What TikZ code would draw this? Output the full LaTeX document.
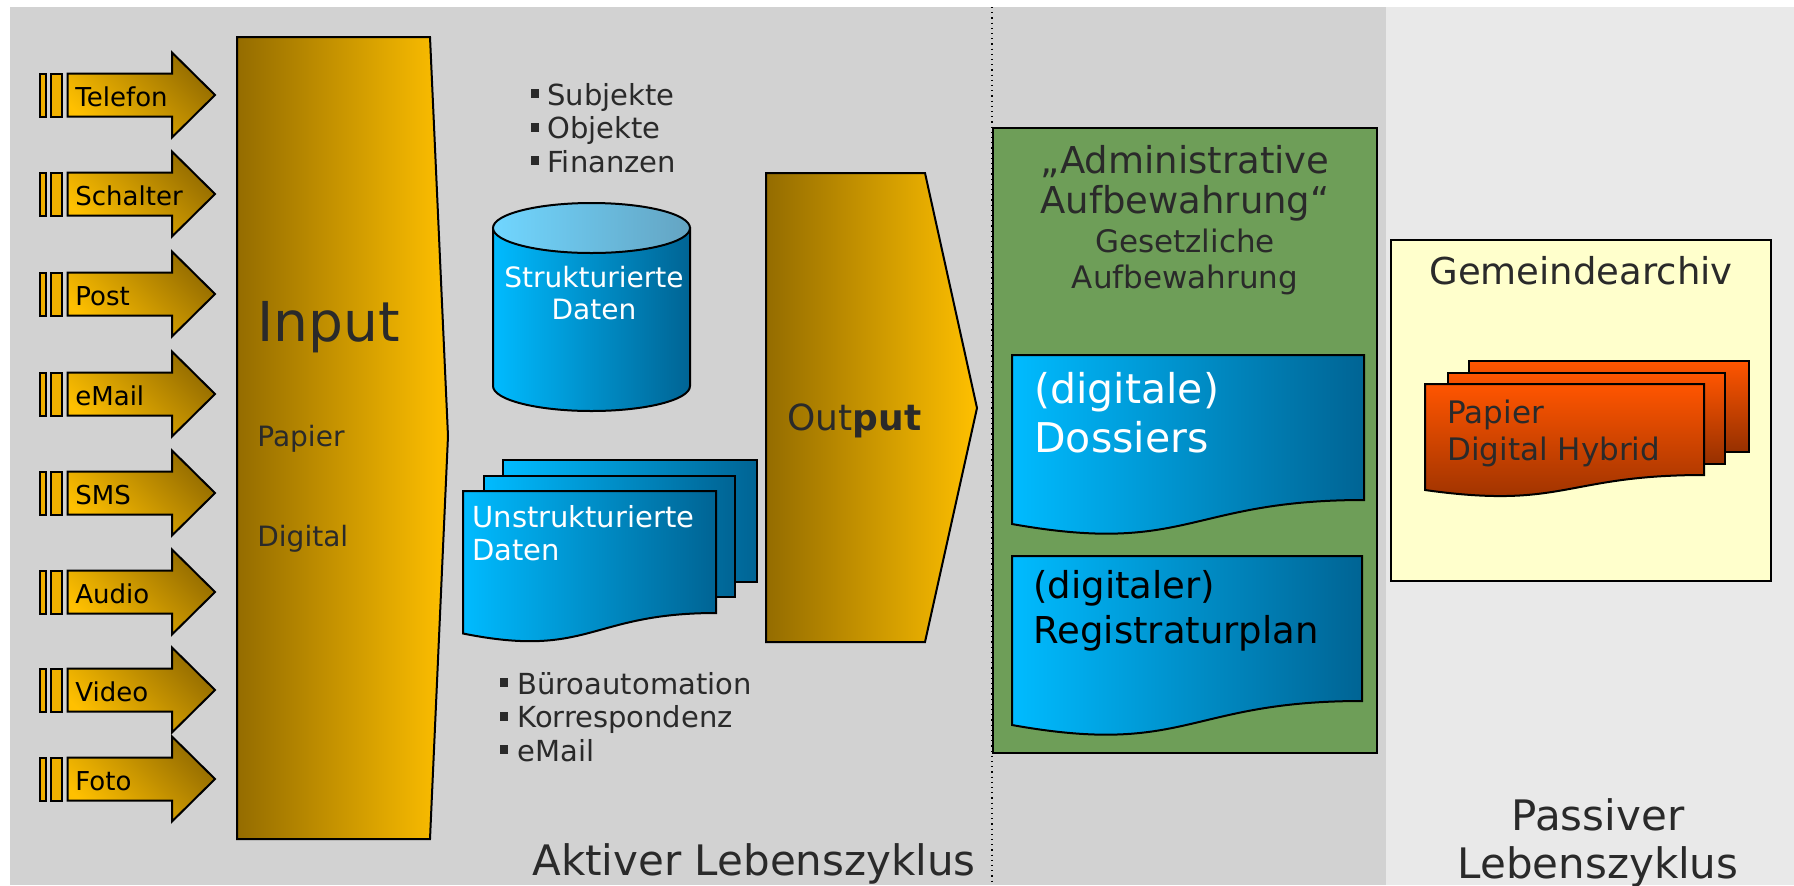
\documentclass[tikz,border=0pt]{standalone}
\usepackage{fontspec}
\setmainfont{DejaVu Sans}
\newcommand{\fsz}[1]{\fontsize{#1pt}{#1pt}\selectfont}
\definecolor{golddark}{RGB}{148,108,0}
\definecolor{goldlight}{RGB}{255,192,0}
\definecolor{bargold}{RGB}{240,176,0}
\definecolor{blueL}{RGB}{0,187,255}
\definecolor{blueD}{RGB}{0,100,148}
\definecolor{cylTopL}{RGB}{112,214,255}
\definecolor{cylTopR}{RGB}{100,164,194}
\definecolor{orangeT}{RGB}{255,85,0}
\definecolor{orangeB}{RGB}{150,48,0}
\definecolor{greenbox}{RGB}{110,158,88}
\definecolor{yellowbox}{RGB}{255,255,204}
\definecolor{bgA}{RGB}{210,210,210}
\definecolor{bgB}{RGB}{233,233,233}
\definecolor{txt}{RGB}{42,42,42}
\tikzset{
  outl/.style={draw=black, line width=1pt},
  goldh/.style={outl, left color=golddark, right color=goldlight},
  golddiag/.style={outl, top color=golddark, bottom color=goldlight, shading angle=-45},
  blueh/.style={outl, left color=blueL, right color=blueD},
  orangev/.style={outl, top color=orangeT, bottom color=orangeB},
  lbl/.style={inner sep=0pt, text=txt},
  bul/.style={fill=txt},
}
\begin{document}
\begin{tikzpicture}[x=0.5pt,y=-0.5pt]
\useasboundingbox (0,0) rectangle (1794,885);
\fill[white] (0,0) rectangle (1794,885);
% background zones
\fill[bgA] (10,7) rectangle (1386,885);
\fill[bgB] (1386,7) rectangle (1794,885);

% input arrows
\foreach \c/\t/\n in {95/Telefon/tel,194/Schalter/sch,294/Post/post,394/eMail/mail,493/SMS/sms,592/Audio/aud,690/Video/vid,779/Foto/foto}{
  \path[outl, fill=bargold] (39.5,\c-21.5) rectangle (45.5,\c+21.5);
  \path[outl, fill=bargold] (50.5,\c-21.5) rectangle (62,\c+21.5);
  \path[golddiag] (67.5,\c-21.5) -- (172,\c-21.5) -- (172,\c-42.5) -- (215,\c) -- (172,\c+42.5) -- (172,\c+21.5) -- (67.5,\c+21.5) -- cycle;
  \node[inner sep=0pt, anchor=base west, font=\fsz{13}] (\n) at (75,\c+11) {\t};
}

% Input block
\path[goldh] (237,37) -- (430,37) -- (448,436) -- (430,839) -- (237,839) -- cycle;
\node[lbl, anchor=base west, font=\fsz{27.5}] (input) at (257,341) {Input};
\node[lbl, anchor=base west, font=\fsz{14}] (inpap) at (257,446) {Papier};
\node[lbl, anchor=base west, font=\fsz{14}] (indig) at (257,546) {Digital};

% bullets top
\foreach \b/\t/\n in {105/Subjekte/subj,138.5/Objekte/obj,172/Finanzen/fin}{
  \fill[bul] (531,\b-16) rectangle (539,\b-7);
  \node[lbl, anchor=base west, font=\fsz{14.5}] (\n) at (547,\b) {\t};
}

% cylinder
\path[outl, left color=blueL, right color=blueD]
  (493,228) -- (493,386)
  .. controls (493,399.8) and (537.1,411) .. (591.5,411)
  .. controls (645.9,411) and (690,399.8) .. (690,386)
  -- (690,228) -- cycle;
\path[outl, left color=cylTopL, right color=cylTopR] (591.5,228) ellipse [x radius=98.5, y radius=25];
\node[inner sep=0pt, anchor=base, text=white, font=\fsz{14}] (strk1) at (594,287) {Strukturierte};
\node[inner sep=0pt, anchor=base, text=white, font=\fsz{14}] (strk2) at (594,319) {Daten};

% unstructured documents
\path[blueh] (503,460) rectangle (757,582);
\path[blueh] (484,476) rectangle (735,597);
\path[blueh] (463,491) -- (716,491) -- (716,613)
  .. controls (589.5,613) and (589.5,659) .. (463,633.5) -- cycle;
\node[inner sep=0pt, anchor=base west, text=white, font=\fsz{14.5}] (unst1) at (472,527) {Unstrukturierte};
\node[inner sep=0pt, anchor=base west, text=white, font=\fsz{14.5}] (unst2) at (472,560) {Daten};

% bullets bottom
\foreach \b/\t/\n in {694/Büroautomation/buero,727.5/Korrespondenz/korr,761/eMail/bmail}{
  \fill[bul] (500,\b-16) rectangle (508,\b-7);
  \node[lbl, anchor=base west, font=\fsz{14.5}] (\n) at (517,\b) {\t};
}

% Output block
\path[goldh] (766,173) -- (925,173) -- (977,408) -- (925,642) -- (766,642) -- cycle;
\node[lbl, anchor=base west, font=\fsz{18}] (output) at (787,430) {Out\textbf{put}};

% green area
\path[draw=black, line width=0.75pt, fill=greenbox] (993,128) rectangle (1377,753);
\node[lbl, anchor=base, font=\fsz{18.5}] (adm1) at (1185,173) {„Administrative};
\node[lbl, anchor=base, font=\fsz{18.5}] (adm2) at (1185,213) {Aufbewahrung“};
\node[lbl, anchor=base, font=\fsz{15.5}] (ges1) at (1185,252) {Gesetzliche};
\node[lbl, anchor=base, font=\fsz{15.5}] (ges2) at (1185,288) {Aufbewahrung};

\path[blueh] (1012,355) -- (1364,355) -- (1364,500)
  .. controls (1188,500) and (1188,555.5) .. (1012,524) -- cycle;
\node[inner sep=0pt, anchor=base west, text=white, font=\fsz{20.5}] (dos1) at (1034,403) {(digitale)};
\node[inner sep=0pt, anchor=base west, text=white, font=\fsz{20.5}] (dos2) at (1034,452) {Dossiers};

\path[blueh] (1012,556) -- (1362,556) -- (1362,701)
  .. controls (1187,701) and (1187,756.5) .. (1012,725) -- cycle;
\node[inner sep=0pt, anchor=base west, text=black, font=\fsz{18.5}] (reg1) at (1033,598) {(digitaler)};
\node[inner sep=0pt, anchor=base west, text=black, font=\fsz{18.5}] (reg2) at (1033,643) {Registraturplan};

% dotted separator
\draw[black, line width=0.6pt, dotted] (992,7) -- (992,885);

% archive box
\path[draw=black, line width=1pt, fill=yellowbox] (1391,240) rectangle (1771,581);
\node[lbl, anchor=base, font=\fsz{18.5}] (arch) at (1581,284) {Gemeindearchiv};
\path[orangev] (1469,361) rectangle (1749,452);
\path[orangev] (1448,373) rectangle (1725,464);
\path[orangev] (1425,384) -- (1704,384) -- (1704,475)
  .. controls (1564.5,475) and (1564.5,509.7) .. (1425,490) -- cycle;
\node[lbl, anchor=base west, font=\fsz{15.5}] (pap) at (1447,423) {Papier};
\node[lbl, anchor=base west, font=\fsz{15.5}] (dighyb) at (1447,460) {Digital Hybrid};

% phase labels
\node[lbl, anchor=base west, font=\fsz{21}] (aktiv) at (532,875) {Aktiver Lebenszyklus};
\node[lbl, anchor=base, font=\fsz{21}] (pass1) at (1598,830) {Passiver};
\node[lbl, anchor=base, font=\fsz{21}] (pass2) at (1598,878) {Lebenszyklus};
\end{tikzpicture}
\end{document}
